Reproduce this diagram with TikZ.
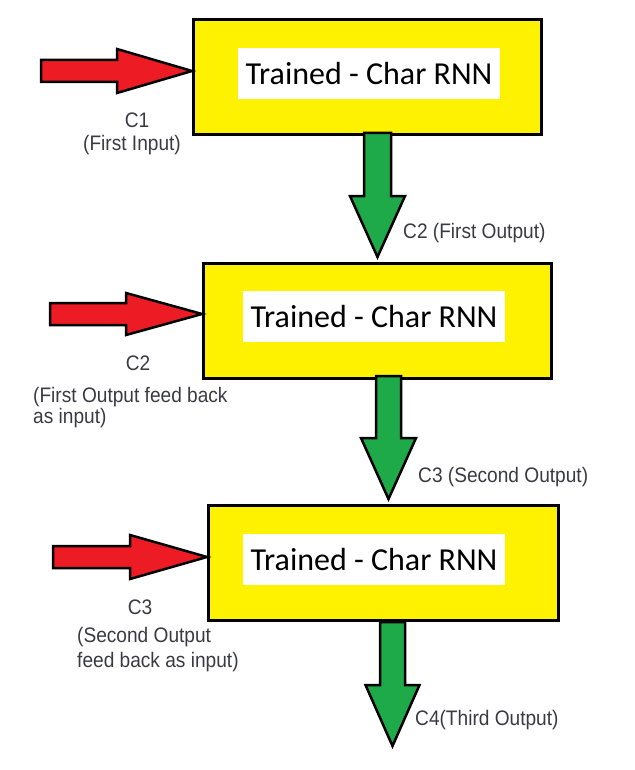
\documentclass[tikz,border=0pt]{standalone}
\usepackage{fontspec}
\setmainfont{Liberation Sans}[FakeStretch=0.91]
\newfontfamily\rnnfont{Carlito}
\definecolor{PaintYellow}{RGB}{255,242,0}
\definecolor{PaintRed}{RGB}{237,28,36}
\definecolor{PaintGreen}{RGB}{30,170,72}
\definecolor{NoteGrey}{RGB}{58,58,68}
\usepackage{tikz}
\usetikzlibrary{positioning, calc}

\tikzset{
	rnnbox/.style={draw=black, line width=3pt, fill=PaintYellow, minimum width=348pt, minimum height=115pt, inner sep=0pt, anchor=north west},
	rnnlabel/.style={fill=white, minimum width=262pt, minimum height=51pt, inner sep=0pt, font=\rnnfont\fontsize{32}{38}\selectfont},
	note/.style={text=NoteGrey, font=\fontsize{21}{25}\selectfont, inner sep=0pt},
	% #1 length, #2 head length, #3 shaft half width, #4 head half width
	pics/fatarrow/.style n args={4}{code={
		\draw[pic actions] (0,0) -- (-#2,-#4) -- (-#2,-#3) -- (-#1,-#3) -- (-#1,#3) -- (-#2,#3) -- (-#2,#4) -- cycle;
	}},
	inarrow/.style={draw=black, fill=PaintRed, line width=2.5pt},
	outarrow/.style={draw=black, fill=PaintGreen, line width=2.5pt, rotate=-90},
}

\begin{document}
\begin{tikzpicture}[x=1pt, y=-1pt]
	\useasboundingbox (0,0) rectangle (634,770);
	% the three network blocks
	\node[rnnbox] (rnnA) at (192,18) {};
	\node[rnnbox] (rnnB) at (202,262) {};
	\node[rnnbox, minimum width=350pt] (rnnC) at (207,504) {};
	\node[rnnlabel] (txtA) at (369,73.5) {Trained - Char RNN};
	\node[rnnlabel] (txtB) at (374,316.5) {Trained - Char RNN};
	\node[rnnlabel] (txtC) at (374,559.5) {Trained - Char RNN};

	% inputs
	\coordinate (inA) at ($(rnnA.west)+(0,-6)$);
	\coordinate (inB) at ($(rnnB.west)+(0,-7)$);
	\coordinate (inC) at ($(rnnC.west)+(0,-6)$);
	\pic[inarrow] at (inA) {fatarrow={151}{75}{11}{22}};
	\pic[inarrow] at (inB) {fatarrow={152}{76}{11}{21}};
	\pic[inarrow] at (inC) {fatarrow={154}{77}{11}{22}};

	% outputs
	\coordinate (outA) at ($(rnnB.north)+(0,-5)$);
	\coordinate (outB) at ($(rnnC.north)+(5,-5)$);
	\coordinate (outC) at ($(rnnC.south)+(9,124)$);
	\pic[outarrow] at (outA) {fatarrow={124}{61}{13.5}{27.5}};
	\pic[outarrow] at (outB) {fatarrow={123}{61}{12.5}{27.5}};
	\pic[outarrow] at (outC) {fatarrow={124}{61}{12.5}{27}};

	\node[note] (nameA) at (137,120) {C1};
	\node[note] (noteA) at (132,145) {(First Input)};
	\node[note] (nameB) at (138,363) {C2};
	\node[note, align=left, anchor=west, font=\fontsize{21}{21.5}\selectfont] (noteB) at (33,407.5) {(First Output feed back\\as input)};
	\node[note] (nameC) at (140,607) {C3};
	\node[note, align=left, anchor=west] (noteC) at (77,649.5) {(Second Output\\feed back as input)};
	\node[note, anchor=west] (resA) at (403,233) {C2 (First Output)};
	\node[note, anchor=west] (resB) at (418,477) {C3 (Second Output)};
	\node[note, anchor=west] (resC) at (415,720) {C4(Third Output)};
\end{tikzpicture}
\end{document}
